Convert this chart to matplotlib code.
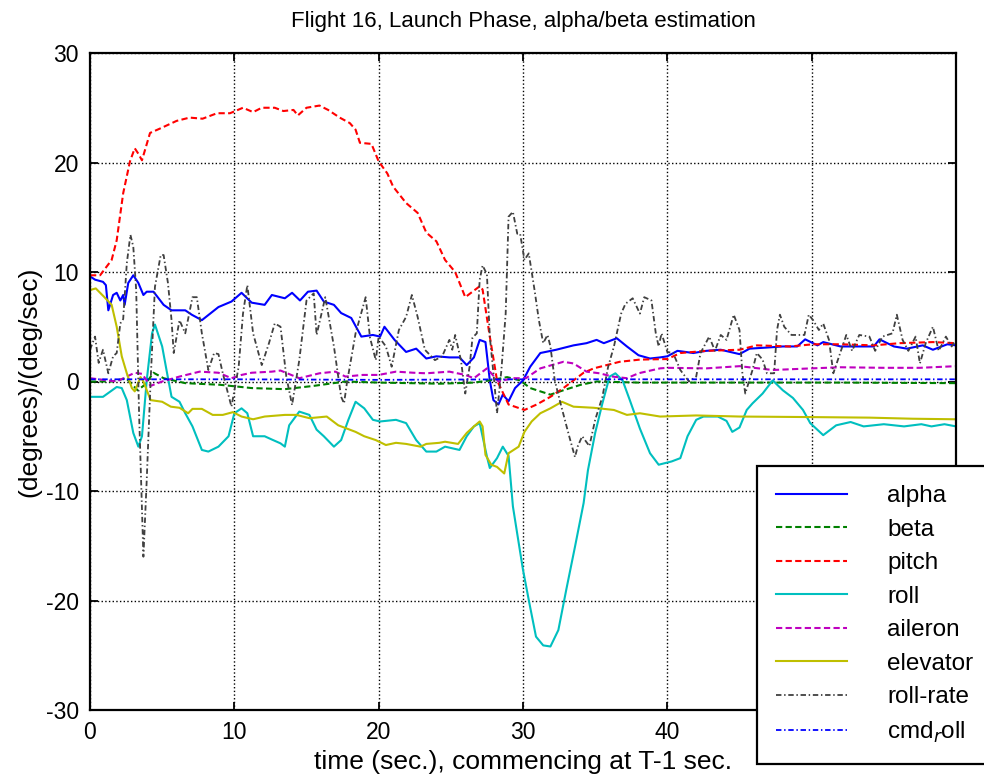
import matplotlib
matplotlib.use("Agg")
import matplotlib.pyplot as plt

plt.rcParams['font.family'] = ['Liberation Sans', 'DejaVu Sans']
plt.rcParams['axes.unicode_minus'] = False

alpha_t = [0,0.35,0.9,1.1,1.27,1.6,1.85,2.1,2.3,2.4,2.65,3.0,3.35,3.7,3.93,4.4,5.1,5.65,6.6,7.05,7.75,8.9,9.8,10.5,11.2,12.1,12.6,13.5,14.0,14.55,15.1,15.7,16.2,16.9,17.4,18.1,18.8,19.6,20.1,20.4,21.1,21.9,22.6,23.3,24.0,24.9,25.6,26.1,26.6,27.0,27.4,27.7,27.95,28.3,28.6,29.0,29.45,30.0,30.5,31.2,32.3,33.5,34.4,35.1,35.6,36.5,37.2,38.0,38.8,39.5,40.0,40.7,41.8,42.7,43.7,45.0,45.7,46.9,48.0,49.0,49.55,50.4,50.8,52.0,54.3,54.7,55.7,56.6,57.7,58.4,59.4,60]
alpha_v = [9.6,9.3,9.1,8.8,6.5,7.9,8.1,7.4,7.9,7.0,9.0,9.7,9.0,7.9,8.2,8.2,7.0,6.5,6.5,6.1,5.6,6.8,7.3,8.1,7.2,7.0,7.9,7.6,8.1,7.4,8.2,8.3,7.3,7.0,6.25,5.8,4.1,4.25,4.1,5.0,3.8,2.7,3.0,2.1,2.3,2.2,2.2,1.5,2.2,3.8,3.6,0.1,-1.7,-2.1,-1.2,-1.8,-0.6,0.1,1.35,2.6,2.9,3.3,3.5,3.8,3.5,3.95,3.2,2.4,2.1,2.2,2.3,2.8,2.6,2.8,2.9,2.5,3.0,3.1,3.2,3.2,3.85,3.3,3.6,3.2,3.2,3.85,3.2,3.0,3.3,2.9,3.4,3.3]

beta_t = [0,1.5,2.5,3.3,3.8,4.4,5.1,6.6,9,11.2,13.5,15.5,17.7,20,24.25,26.6,27.7,28.9,29.8,30.5,31.2,31.9,32.8,34,35.1,38,45,52,60]
beta_v = [0,0,0.3,-0.8,-0.3,0.8,0.3,-0.15,-0.3,-0.6,-0.7,-0.4,0.0,-0.1,-0.2,-0.1,0.1,0.4,0.1,-0.6,-0.9,-1.2,-0.8,-0.3,0,-0.1,-0.1,-0.1,-0.15]

pitch_t = [0,0.7,1.5,1.85,2.3,2.77,3.1,3.35,3.6,4.16,4.85,6.0,6.9,7.8,8.8,9.7,10.6,11.3,11.9,12.8,13.4,14.1,14.4,15.0,15.9,16.5,17.3,18.0,18.4,18.7,19.5,20.0,20.6,21.0,21.9,22.7,23.3,24.0,24.6,25.3,26.0,27.0,27.2,27.7,28.2,29.0,30.1,30.95,31.9,32.8,33.5,34.2,34.9,35.8,36.7,38.1,40.0,40.9,42.7,45.0,46.2,48.5,50.1,52.0,54.3,56.1,58.4,60]
pitch_v = [9.7,9.7,11.1,12.9,17.2,20.1,21.3,20.8,20.2,22.7,23.1,23.8,24.1,24.0,24.5,24.5,25.0,24.6,25.0,25.0,24.7,24.8,24.3,25.0,25.2,24.8,24.1,23.6,23.0,21.8,21.7,20.1,19.0,17.8,16.3,15.4,13.6,12.8,11.1,10.0,7.7,8.7,8.4,4.1,0.1,-2.1,-2.6,-2.1,-1.4,-0.6,0.1,0.8,1.2,1.5,1.8,2.0,2.05,2.6,2.8,2.9,3.3,3.2,3.4,3.4,3.3,3.5,3.6,3.5]

roll_t = [0,0.9,1.85,2.2,2.55,3.0,3.35,3.6,3.93,4.3,4.5,5.0,5.3,5.65,6.2,6.6,7.1,7.75,8.2,8.9,9.6,10.0,10.5,10.9,11.3,12.1,12.6,13.2,13.5,13.8,14.5,15.2,15.7,16.2,16.9,17.4,17.9,18.4,19.0,19.6,20.1,21.2,21.9,22.6,23.3,24.0,24.6,25.6,26.1,26.6,27.0,27.5,27.7,28.2,28.6,29.0,29.3,29.6,30.0,30.45,30.9,31.4,31.9,32.45,33.0,33.6,34.2,34.5,35.0,35.5,36.0,36.4,36.9,37.4,38.1,38.8,39.4,40.3,40.9,41.4,42.0,42.5,43.5,44.1,44.5,45.0,45.5,45.9,46.6,47.3,48.0,48.7,49.4,49.9,50.8,51.7,52.7,53.6,55.0,56.4,57.6,58.3,59.2,60]
roll_v = [-1.4,-1.4,-0.5,-0.6,-1.7,-4.7,-5.95,-5.0,0.1,4.4,5.2,3.2,1.05,-1.4,-1.85,-2.9,-4.1,-6.25,-6.4,-5.95,-5.0,-2.9,-2.45,-2.9,-5.0,-5.0,-5.3,-5.65,-5.95,-4.0,-2.75,-3.05,-4.4,-5.0,-5.95,-5.35,-3.5,-1.85,-2.45,-3.5,-3.65,-3.5,-3.8,-5.35,-6.4,-6.4,-5.95,-6.25,-5.0,-4.1,-3.8,-6.85,-7.9,-7.0,-5.95,-6.8,-11.4,-13.9,-17.2,-20.3,-23.3,-24.1,-24.2,-22.7,-19.0,-15.1,-11.1,-8.1,-4.7,-2.0,0.45,0.75,0.1,-1.7,-4.3,-6.55,-7.6,-7.3,-7.0,-5.0,-3.5,-3.2,-3.2,-3.6,-4.6,-4.2,-2.6,-2.0,-1.1,0.1,-0.8,-1.5,-2.6,-3.8,-4.9,-4.0,-3.7,-4.1,-3.9,-4.1,-3.9,-4.1,-3.9,-4.1]

aileron_t = [0,1.85,3.1,3.6,4.2,5.0,6.2,7.6,8.9,9.8,10.5,11.2,12.6,13.2,14.5,15.9,17,17.7,18.9,20,21.2,22.4,23.3,24.9,26.0,26.6,27.5,28.3,29.3,30.2,31.2,32.0,32.8,33.5,34.4,35.3,36.2,37.2,38.0,39.5,40,42.7,45,47.3,50,52,55,57.5,60]
aileron_v = [0.3,0.0,0.8,0.7,-0.4,0.0,0.45,0.9,0.8,0.3,0.6,0.8,0.9,1.0,0.3,0.75,0.9,0.45,0.6,0.6,0.9,0.8,0.75,0.9,0.6,0.3,1.2,0.0,0.3,0.3,1.2,1.5,1.8,1.65,0.9,0.75,0.45,0.3,0.75,1.2,1.25,1.2,1.4,1.05,1.2,1.3,1.25,1.25,1.4]

elevator_t = [0,0.4,1.0,1.5,1.85,2.2,2.55,2.9,3.1,3.5,3.7,4.2,5.0,5.6,6.2,6.8,7.1,7.75,8.5,9.2,9.9,10.5,11.3,12.1,13.5,14.3,15.2,16.4,17.2,18.4,19.0,19.8,20.5,21.2,21.9,22.9,23.3,24.2,24.6,25.5,26.1,26.6,27.0,27.2,27.4,27.8,28.2,28.7,29.0,29.7,30.1,30.6,31.2,31.9,32.7,33.5,34.9,36.3,37.2,38.1,39.5,42,45,50,54,57,60]
elevator_v = [8.35,8.5,7.7,7.0,5.0,2.3,0.75,-0.6,-0.9,0.4,0.0,-1.7,-1.85,-2.3,-2.4,-2.9,-2.5,-2.5,-3.05,-3.05,-2.8,-3.2,-3.45,-3.2,-3.05,-3.05,-3.35,-3.2,-4.0,-4.6,-5.0,-5.35,-5.8,-5.6,-5.7,-5.95,-5.7,-5.6,-5.5,-5.7,-4.7,-4.1,-3.65,-4.1,-6.7,-7.6,-7.8,-8.4,-6.55,-5.95,-4.6,-3.65,-2.9,-2.45,-1.85,-2.3,-2.4,-2.6,-3.05,-2.9,-3.2,-3.1,-3.2,-3.25,-3.3,-3.4,-3.45]

rollrate_t = [0,0.35,0.6,0.9,1.27,1.6,1.85,2.1,2.3,2.55,2.8,3.0,3.2,3.4,3.7,3.93,4.2,4.5,4.9,5.1,5.4,5.65,5.8,6.2,6.6,7.1,7.4,7.75,8.2,8.6,8.9,9.2,9.8,10.3,10.6,10.9,11.3,11.9,12.4,12.8,13.2,13.6,14.0,14.5,15.0,15.5,15.7,16.3,16.9,17.4,17.6,17.8,18.4,19.1,19.4,19.8,20.0,20.5,20.9,21.4,21.9,22.3,22.7,23.2,23.9,24.4,24.9,25.1,25.3,25.7,26.0,26.3,26.5,26.8,27.0,27.2,27.5,27.7,28.0,28.2,28.5,28.8,29.0,29.3,29.6,29.8,30.1,30.4,30.8,31.1,31.4,31.7,31.9,32.2,32.6,33.2,33.6,33.8,34.1,34.6,35.0,35.5,35.9,36.3,36.8,37.1,37.6,38.1,38.4,38.9,39.2,39.4,39.6,40.0,40.4,40.9,41.5,42.0,42.3,42.9,43.3,43.7,44.1,44.6,45.0,45.2,45.4,45.9,46.2,46.6,46.9,47.4,47.6,47.8,48.1,48.6,49.5,49.8,50.1,50.5,50.8,51.2,51.5,51.9,52.4,52.8,53.3,54.0,54.4,54.9,55.6,55.9,56.3,56.7,57.2,57.5,57.9,58.4,58.8,59.3,59.7,60]
rollrate_v = [2.9,4.1,1.7,2.9,0.75,2.3,2.6,5.3,5.7,10.8,13.4,12.3,8.35,-2.9,-16.0,-9.0,0.1,8.65,11.55,11.55,9.0,5.6,2.6,5.6,4.4,7.7,7.7,4.4,1.05,2.6,2.5,0.75,-2.3,1.35,6.2,8.8,4.4,1.5,3.5,5.3,5.0,0.45,-2.15,1.95,7.4,8.05,4.25,7.7,3.2,-1.4,-2.0,-0.15,4.4,7.7,4.0,1.95,4.1,3.2,1.35,4.7,5.9,7.9,5.9,2.9,1.95,2.3,3.8,2.9,4.25,1.95,-1.1,1.35,4.0,4.4,9.3,10.6,9.8,4.1,0.1,-2.9,1.0,6.2,15.05,15.5,13.5,13.5,11.1,11.7,8.35,5.6,3.5,4.25,3.2,0.1,-2.0,-5.0,-6.9,-5.9,-5.0,-5.9,-3.5,-1.4,1.35,3.2,6.2,7.1,7.6,6.2,7.7,7.4,4.4,3.2,4.4,2.7,2.6,1.05,0.0,0.45,2.6,4.1,2.8,4.25,3.8,6.1,4.7,0.75,-1.1,1.05,2.6,2.0,0.75,0.75,4.7,6.1,5.0,4.25,4.25,6.1,5.6,4.7,5.3,3.8,0.75,2.3,4.25,2.8,4.25,4.1,2.8,4.1,4.4,6.1,3.8,2.8,4.1,1.65,3.5,5.0,2.8,4.1,3.2,3.8]

cmdroll_t = [0,10,20,30,40,50,60]
cmdroll_v = [0.2,0.2,0.15,0.2,0.2,0.2,0.2]

labels = ['alpha', 'beta', 'pitch', 'roll', 'aileron', 'elevator', 'roll-rate', 'cmd$_r$oll']
xticks = [0, 10, 20, 30, 40, 50]
yticks = [-30, -20, -10, 0, 10, 20, 30]

fig = plt.figure(figsize=(9.84, 7.76), dpi=100)
ax = fig.add_axes([90/984, 1-710/776, (956-90)/984, (710-53)/776])

lw = 1.5
dash = (0, (3.0, 1.6))
dashdot = (0, (3.0, 1.5, 0.8, 1.5))
ax.plot(alpha_t, alpha_v, color='#0000ff', ls='-', lw=lw, label=labels[0])
ax.plot(beta_t, beta_v, color='#008000', ls=dash, lw=lw, label=labels[1])
ax.plot(pitch_t, pitch_v, color='#ff0000', ls=dash, lw=lw, label=labels[2])
ax.plot(roll_t, roll_v, color='#00bfbf', ls='-', lw=lw, label=labels[3])
ax.plot(aileron_t, aileron_v, color='#bf00bf', ls=dash, lw=lw, label=labels[4])
ax.plot(elevator_t, elevator_v, color='#bfbf00', ls='-', lw=lw, label=labels[5])
ax.plot(rollrate_t, rollrate_v, color='#404040', ls=dashdot, lw=1.3, label=labels[6])
ax.plot(cmdroll_t, cmdroll_v, color='#0000ff', ls=dashdot, lw=1.3, label=labels[7])

ax.set_xlim(0, 60)
ax.set_ylim(-30, 30)
ax.set_xticks(xticks)
ax.set_yticks(yticks)
ax.grid(True, color='black', ls=':', lw=1.0)
ax.tick_params(direction='in', top=True, right=True, length=6, width=1.3, labelsize=16.5, pad=8)
for s in ax.spines.values():
    s.set_linewidth(1.6)

ax.set_title('Flight 16, Launch Phase, alpha/beta estimation', fontsize=16, pad=19)
ax.set_xlabel('time (sec.), commencing at T-1 sec.', fontsize=19, labelpad=4)
ax.set_ylabel('(degrees)/(deg/sec)', fontsize=19, labelpad=3)

leg = fig.legend(loc='upper left', bbox_to_anchor=(757/984, 1-466/776), bbox_transform=fig.transFigure,
                 fontsize=17.5, frameon=True, fancybox=False, shadow=False, framealpha=1,
                 edgecolor='black', borderpad=0.8, labelspacing=0.47, handlelength=2.9,
                 handletextpad=1.65, borderaxespad=0)
leg.get_frame().set_linewidth(1.6)

fig.savefig('out.png', dpi=100)
